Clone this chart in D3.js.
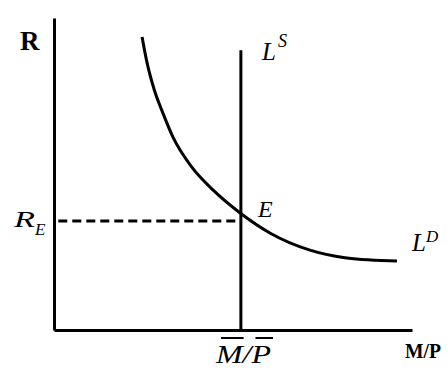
<!DOCTYPE html>
<html><head><meta charset="utf-8">
<script src="https://cdn.jsdelivr.net/npm/d3@7"></script>
<style>body{margin:0;background:#fff}svg{display:block}</style>
</head><body><svg id="c" width="447" height="376"></svg>
<script>
// Liquidity demand curve L^D (quantity of real money, interest rate), arbitrary units 0-100
const demandX = [24.6, 26.0, 28.0, 30.4, 33.2, 38.5, 44.4, 52.0, 60.3, 71.5, 81.8, 95.8];
const demandY = [93.9, 85.6, 77.0, 69.6, 61.9, 52.2, 44.9, 37.5, 31.1, 25.6, 23.1, 22.1];
// Money supply L^S (vertical at M/P), its top, and equilibrium rate R_E
const supplyX = [52.2, 52.2];
const supplyY = [0, 89.7];
const rateE = [34.9];
const labels = {y: "R", x: "M/P", supply: "L", supplySup: "S", demand: "L", demandSup: "D", eq: "E", rate: "R", rateSub: "E", mp: "M/P"};

const svg = d3.select("#c");
svg.append("rect").attr("width", 447).attr("height", 376).attr("fill", "#fff");
const x = d3.scaleLinear().domain([0, 100]).range([54, 412]);
const y = d3.scaleLinear().domain([0, 100]).range([330, 18]);
const serif = "'Liberation Serif','Times New Roman',serif";

// axes
svg.append("g").attr("transform", `translate(0,${y(0)})`)
  .call(d3.axisBottom(x).ticks(0).tickSizeOuter(0));
svg.append("g").attr("transform", `translate(${x(0)},0)`)
  .call(d3.axisLeft(y).ticks(0).tickSizeOuter(0));
svg.selectAll(".domain").attr("stroke", "#000").attr("stroke-width", 3);

// dashed R_E line
svg.append("line")
  .attr("x1", x(1.2)).attr("x2", x(supplyX[0]))
  .attr("y1", y(rateE[0])).attr("y2", y(rateE[0]))
  .attr("stroke", "#000").attr("stroke-width", 3).attr("stroke-dasharray", "9,5");

// supply line
svg.append("line")
  .attr("x1", x(supplyX[0])).attr("x2", x(supplyX[1]))
  .attr("y1", y(supplyY[0])).attr("y2", y(supplyY[1]))
  .attr("stroke", "#000").attr("stroke-width", 3);

// demand curve
const pts = demandX.map((d, i) => [d, demandY[i]]);
svg.append("path")
  .attr("d", d3.line().x(d => x(d[0])).y(d => y(d[1])).curve(d3.curveMonotoneX)(pts))
  .attr("fill", "none").attr("stroke", "#000").attr("stroke-width", 3);

function txt(s, px, py, size, opts = {}) {
  return svg.append("text").attr("x", px).attr("y", py)
    .attr("font-family", serif).attr("font-size", size)
    .attr("font-style", opts.italic ? "italic" : "normal")
    .attr("font-weight", opts.bold ? "bold" : "normal")
    .attr("fill", "#000").text(s);
}

// axis labels
txt(labels.y, 20, 50, 27, {bold: true});
txt(labels.x, 405, 358, 22, {bold: true}).attr("textLength", 36).attr("lengthAdjust", "spacingAndGlyphs");

// R_E
txt(labels.rate, 14, 227, 23, {italic: true}).attr("textLength", 21).attr("lengthAdjust", "spacingAndGlyphs");
txt(labels.rateSub, 35, 235, 17, {italic: true});

// L^S
txt(labels.supply, 262, 60, 25, {italic: true});
txt(labels.supplySup, 278, 47, 18, {italic: true});
// L^D
txt(labels.demand, 412, 251, 25, {italic: true});
txt(labels.demandSup, 426, 242, 17, {italic: true});
// E
txt(labels.eq, 258, 217, 24, {italic: true});

// M-bar / P-bar
const mp = txt(labels.mp, 216, 363, 26, {italic: true}).attr("textLength", 55).attr("lengthAdjust", "spacingAndGlyphs");
const node = mp.node();
const mS = node.getStartPositionOfChar(0).x, mE = node.getEndPositionOfChar(0).x;
const pS = node.getStartPositionOfChar(2).x, pE = node.getEndPositionOfChar(2).x;
svg.append("line").attr("x1", mS + 5).attr("x2", mE + 1).attr("y1", 338).attr("y2", 338)
  .attr("stroke", "#000").attr("stroke-width", 2);
svg.append("line").attr("x1", pS + 4).attr("x2", pE + 2).attr("y1", 338).attr("y2", 338)
  .attr("stroke", "#000").attr("stroke-width", 2);
</script></body></html>
